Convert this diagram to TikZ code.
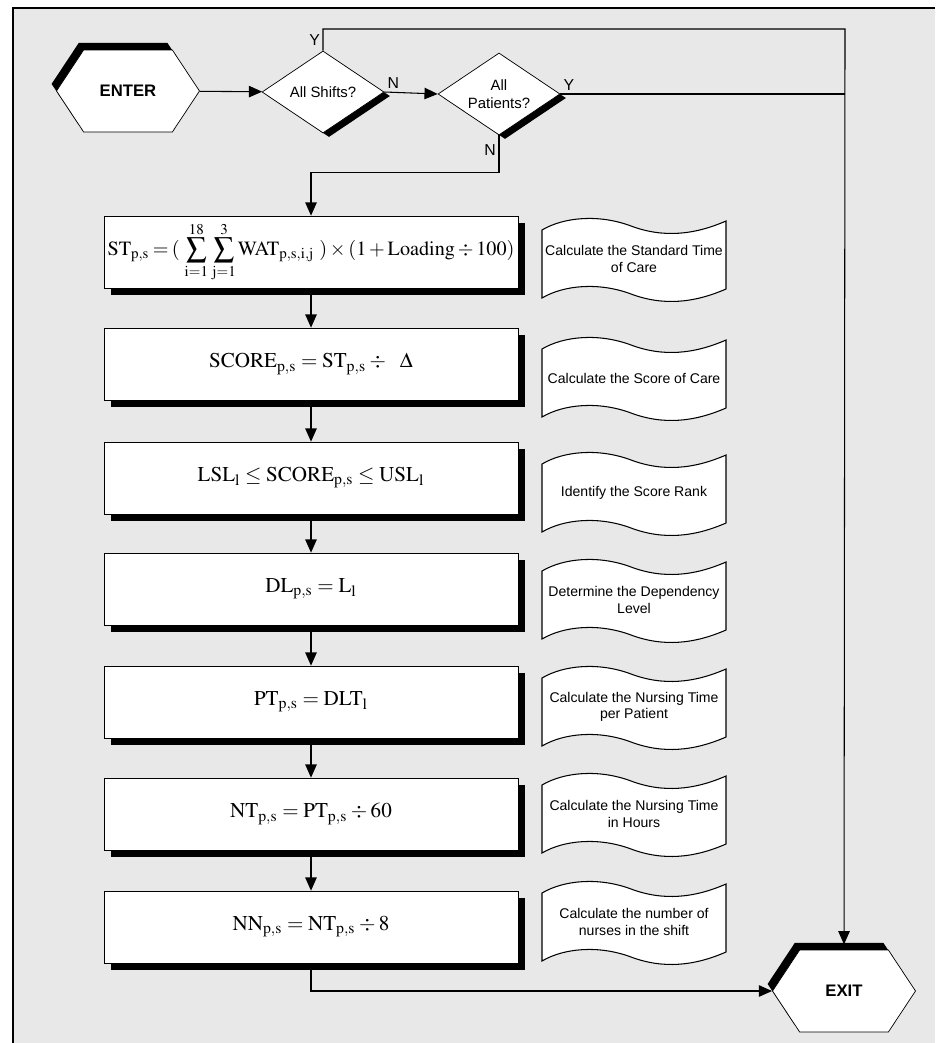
\documentclass[tikz,border=0pt]{standalone}
\usepackage{mathptmx}
\usepackage{fontspec}
\setmainfont{Liberation Serif}
\setsansfont{Liberation Sans}
\usetikzlibrary{shapes.geometric,shapes.symbols,shadows,arrows.meta}

\newcommand{\tightmath}{\medmuskip=3mu\relax\thickmuskip=4mu\relax}
\newcommand{\tightermath}{\medmuskip=2.5mu\relax\thickmuskip=3mu\relax}

\begin{document}
\begin{tikzpicture}[x=0.02cm,y=-0.02cm,
  hexnode/.style={signal,signal to=east and west,signal pointer angle=113,draw,fill=white,
                  minimum width=2.86cm,minimum height=1.64cm,inner sep=0pt,
                  font=\sffamily\bfseries\fontsize{9.5}{11}\selectfont,
                  drop shadow={shadow xshift=-2.8pt,shadow yshift=4pt,fill=black,opacity=1}},
  decision/.style={diamond,draw,fill=white,aspect=1.5,minimum width=2.44cm,minimum height=1.64cm,
                  inner sep=0pt,align=center,font=\sffamily\fontsize{8.5}{10}\selectfont,
                  drop shadow={shadow xshift=3.4pt,shadow yshift=-2.3pt,fill=black,opacity=1}},
  formbox/.style={rectangle,draw,fill=white,minimum width=8.28cm,minimum height=1.44cm,
                  inner sep=1pt,font=\fontsize{12}{14}\selectfont\tightmath,
                  drop shadow={shadow xshift=4pt,shadow yshift=-4pt,fill=black,opacity=1}},
  notetext/.style={align=center,inner sep=1pt,font=\sffamily\fontsize{8}{9.5}\selectfont},
  notewave/.pic={\filldraw[conn,fill=white] (-92,-29) .. controls (-70,-42) and (-35,-45) .. (-3,-33)
                  .. controls (29,-21) and (60,-24) .. (92,-38) -- (92,30)
                  .. controls (60,44) and (29,47) .. (-3,35)
                  .. controls (-35,23) and (-70,26) .. (-92,39) -- cycle;},
  conn/.style={line width=0.6pt},
  arr/.style={conn,-{Triangle[length=7.5pt,width=6.5pt]}},
  yn/.style={font=\sffamily\fontsize{9}{10}\selectfont,inner sep=1.5pt},
]

% Page and frame
\useasboundingbox (0,0) rectangle (935,1043);
\fill[black!9] (13,8) rectangle (935,1043);
\draw[conn] (13,1043) -- (13,8) -- (935,8);

% Entry and the two decisions
\node[hexnode] (enter) at (128,91) {ENTER};
\node[decision] (shifts) at (323,92) {All Shifts?};
\node[decision] (patients) at (499,94) {All\\Patients?};

% Formula boxes
\node[formbox,font=\fontsize{11.5}{14}\selectfont\tightermath] (stbox) at (311,252)
  {$\mathrm{ST}_{\mathrm{p{,}s}}=(\ \displaystyle\sum_{\mathrm{i=1}}^{18}\,\sum_{\mathrm{j=1}}^{3}\mathrm{WAT}_{\mathrm{p{,}s{,}i{,}j}}\ )\times(1+\mathrm{Loading}\div 100)$};
\node[formbox] (scorebox) at (311,364)
  {$\mathrm{SCORE}_{\mathrm{p{,}s}}=\mathrm{ST}_{\mathrm{p{,}s}}\div\ \ \Delta$};
\node[formbox] (rankbox) at (311,478)
  {$\mathrm{LSL}_{\mathrm{l}}\leq\mathrm{SCORE}_{\mathrm{p{,}s}}\leq\mathrm{USL}_{\mathrm{l}}$};
\node[formbox] (levelbox) at (311,589)
  {$\mathrm{DL}_{\mathrm{p{,}s}}=\mathrm{L}_{\mathrm{l}}$};
\node[formbox] (ptbox) at (311,702)
  {$\mathrm{PT}_{\mathrm{p{,}s}}=\mathrm{DLT}_{\mathrm{l}}$};
\node[formbox] (ntbox) at (311,814)
  {$\mathrm{NT}_{\mathrm{p{,}s}}=\mathrm{PT}_{\mathrm{p{,}s}}\div 60$};
\node[formbox] (nnbox) at (311,927)
  {$\mathrm{NN}_{\mathrm{p{,}s}}=\mathrm{NT}_{\mathrm{p{,}s}}\div 8$};

% Notes beside the boxes
\pic at (634,259) {notewave};
\node[notetext] (stnote) at (634,259) {Calculate the Standard Time\\of Care};
\pic at (634,378) {notewave};
\node[notetext] (scorenote) at (634,378) {Calculate the Score of Care};
\pic at (634,493) {notewave};
\node[notetext] (ranknote) at (634,493) {Identify the Score Rank};
\pic at (634,600) {notewave};
\node[notetext] (levelnote) at (634,600) {Determine the Dependency\\Level};
\pic at (634,707) {notewave};
\node[notetext] (ptnote) at (634,707) {Calculate the Nursing Time\\per Patient};
\pic at (634,814) {notewave};
\node[notetext] (ntnote) at (634,814) {Calculate the Nursing Time\\in Hours};
\pic at (634,922) {notewave};
\node[notetext] (nnnote) at (634,922) {Calculate the number of\\nurses in the shift};

% Exit
\node[hexnode] (exit) at (844,991) {EXIT};
\coordinate (ycorner) at (845,29);

% Connectors
\draw[arr] (enter) -- (shifts);
\draw[arr] (shifts.east) -- node[yn,above right,pos=0]{N} (patients.west);
\draw[arr] (shifts.north) |- node[yn,left,pos=0.25]{Y} (ycorner) -- ([yshift=3pt]exit.north);
\draw[conn] (patients.east) -- node[yn,above right,pos=0]{Y} (patients.east -| ycorner);
\draw[arr] (patients.south) -- node[yn,left,pos=0.4]{N} ++(0,37) -| (stbox.north);
\draw[arr] (stbox) -- (scorebox);
\draw[arr] (scorebox) -- (rankbox);
\draw[arr] (rankbox) -- (levelbox);
\draw[arr] (levelbox) -- (ptbox);
\draw[arr] (ptbox) -- (ntbox);
\draw[arr] (ntbox) -- (nnbox);
\draw[arr] (nnbox.south) |- (exit.west);

\end{tikzpicture}
\end{document}
